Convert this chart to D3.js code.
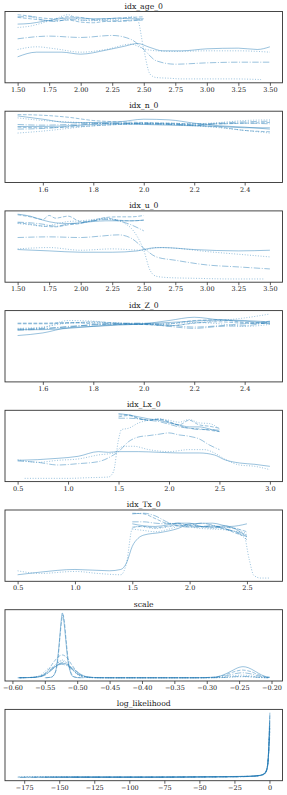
<!DOCTYPE html>
<html>
<head>
<meta charset="utf-8">
<script src="https://cdn.jsdelivr.net/npm/d3@7"></script>
<style>
  body { margin: 0; background: #fff; }
  svg text { font-family: "DejaVu Serif", serif; fill: #222; }
</style>
</head>
<body>
<div class="canvas"></div>
<script>
// Panel titles
const titles = ['idx_age_0', 'idx_n_0', 'idx_u_0', 'idx_Z_0', 'idx_Lx_0', 'idx_Tx_0', 'scale', 'log_likelihood']

// KDE per chain, [x, density]
const ageChains = [
  [[1.5,.88],[1.6,.89],[1.7,.92],[1.8,.95],[1.9,.97],[2.0,.97],[2.1,.96],[2.2,.96],[2.3,.97],[2.4,.96],[2.5,.96]],
  [[1.5,.83],[1.6,.85],[1.7,.90],[1.8,.96],[1.9,1.02],[2.0,.94],[2.1,.93],[2.2,.95],[2.3,.95],[2.4,.99],[2.45,.95],[2.5,.50],[2.55,.13],[2.6,.08],[2.7,.07],[2.8,.06],[3.0,.06],[3.2,.06],[3.43,.05]],
  [[1.5,1.02],[1.6,1.00],[1.7,.97],[1.8,.96],[1.9,.99],[2.0,.98],[2.1,.95],[2.2,.96],[2.3,.97],[2.4,.98],[2.5,.99]],
  [[1.5,.99],[1.6,.99],[1.7,.94],[1.8,.92],[1.9,.95],[2.0,.94],[2.1,.94],[2.2,.93],[2.3,.93],[2.4,.94],[2.5,.95]],
  [[1.5,.39],[1.65,.46],[1.85,.46],[2.0,.43],[2.2,.49],[2.35,.55],[2.45,.59],[2.55,.53],[2.65,.48],[2.8,.48],[3.0,.51],[3.25,.52],[3.4,.50],[3.5,.54]],
  [[1.5,.50],[1.65,.54],[1.8,.51],[2.0,.46],[2.2,.50],[2.4,.58],[2.5,.51],[2.6,.48],[2.75,.47],[3.0,.48],[3.25,.48],[3.5,.46]],
  [[1.5,.98],[1.6,.96],[1.7,.94],[1.8,.93],[1.9,.94],[2.0,.91],[2.1,.90],[2.2,.92],[2.3,.92],[2.4,.93],[2.5,.94]],
  [[1.5,.66],[1.75,.70],[2.0,.68],[2.25,.71],[2.4,.65],[2.5,.50],[2.6,.33],[2.75,.28],[3.0,.30],[3.25,.31],[3.5,.31]]
]

const nX = [1.5, 1.6, 1.7, 1.8, 1.9, 2.0, 2.1, 2.2, 2.3, 2.4, 2.5]
const nDens = [
  [1.01,.96,.91,.91,.92,.96,.95,.90,.86,.84,.81],
  [.98,.94,.92,.90,.89,.90,.90,.89,.91,.94,.95],
  [1.03,1.02,.99,.94,.92,.91,.90,.89,.89,.90,.91],
  [.88,.87,.88,.90,.90,.89,.88,.87,.89,.90,.89],
  [.85,.85,.86,.88,.89,.88,.87,.86,.85,.83,.83],
  [.75,.78,.82,.86,.88,.89,.88,.86,.83,.79,.75],
  [.84,.83,.84,.86,.88,.89,.89,.87,.84,.79,.77],
  [.81,.82,.85,.89,.90,.90,.89,.87,.90,.92,.93]
]

const uChains = [
  [[1.5,1.04],[1.6,1.01],[1.7,.95],[1.8,.91],[1.9,.90],[2.0,.91],[2.1,.93],[2.2,.94],[2.3,.94],[2.4,.94],[2.5,.95]],
  [[1.5,.90],[1.6,.88],[1.7,.86],[1.8,.89],[1.9,.93],[2.0,.94],[2.1,.96],[2.2,.97],[2.3,.95],[2.35,.90],[2.4,.83],[2.45,.70],[2.5,.50],[2.55,.20],[2.6,.11],[2.7,.09],[2.9,.08],[3.2,.07],[3.45,.07]],
  [[1.5,1.03],[1.6,1.00],[1.7,.96],[1.75,1.02],[1.8,.98],[1.9,1.01],[2.0,.93],[2.1,.94],[2.2,.98],[2.3,.95],[2.4,.94],[2.5,.95]],
  [[1.5,.92],[1.6,.91],[1.7,.89],[1.8,.86],[1.9,.89],[2.0,.91],[2.1,.94],[2.2,.96],[2.3,.94],[2.4,.88],[2.5,.79]],
  [[1.5,.51],[1.75,.49],[2.0,.47],[2.25,.47],[2.45,.49],[2.55,.53],[2.65,.54],[2.9,.51],[3.25,.49],[3.5,.50]],
  [[1.5,.52],[1.75,.54],[2.0,.50],[2.25,.52],[2.5,.50],[2.6,.54],[2.75,.53],[3.0,.48],[3.25,.44],[3.5,.40]],
  [[1.5,.91],[1.6,.89],[1.7,.86],[1.8,.85],[1.9,.88],[2.0,.90],[2.1,.95],[2.2,.99],[2.3,1.00],[2.4,1.00],[2.5,1.02]],
  [[1.5,.69],[1.75,.70],[2.0,.69],[2.15,.71],[2.3,.73],[2.4,.68],[2.5,.53],[2.6,.40],[2.75,.35],[3.0,.28],[3.25,.25],[3.5,.22]]
]

const zX = [1.5, 1.6, 1.7, 1.8, 1.9, 2.0, 2.1, 2.2, 2.3, 2.4, 2.5]
const zDens = [
  [.71,.75,.83,.85,.87,.89,.94,.99,.95,.93,.90],
  [.80,.83,.94,.93,.89,.88,.86,.90,.94,.98,1.04],
  [.90,.90,.91,.89,.88,.88,.89,.94,.95,.91,.89],
  [.79,.81,.85,.87,.89,.89,.85,.82,.85,.86,.92],
  [.80,.80,.82,.85,.88,.89,.91,.93,.95,.94,.92],
  [.82,.84,.90,.91,.90,.88,.89,.91,.89,.85,.88],
  [.89,.89,.90,.92,.90,.88,.86,.90,.92,.90,.93],
  [.81,.82,.84,.88,.90,.90,.87,.84,.86,.89,.90]
]

const lxChains = [
  [[1.5,1.02],[1.6,1.00],[1.7,.97],[1.8,.94],[1.9,.92],[2.0,.88],[2.1,.85],[2.2,.82],[2.3,.82],[2.4,.79],[2.5,.75]],
  [[0.57,.05],[0.8,.05],[1.0,.05],[1.2,.06],[1.4,.07],[1.45,.15],[1.5,.63],[1.53,.78],[1.6,.80],[1.7,.88],[1.8,.92],[1.9,.94],[2.0,.92],[2.1,.89],[2.2,.93],[2.3,.88],[2.4,.87],[2.5,.79]],
  [[1.5,1.00],[1.6,1.00],[1.7,.95],[1.8,.92],[1.9,.94],[2.0,.89],[2.1,.84],[2.2,.80],[2.3,.79],[2.4,.77],[2.5,.75]],
  [[1.5,.95],[1.6,.95],[1.7,.94],[1.8,.92],[1.9,.90],[2.0,.86],[2.1,.82],[2.2,.80],[2.3,.78],[2.4,.78],[2.5,.77]],
  [[0.5,.32],[0.7,.33],[0.9,.35],[1.1,.38],[1.3,.45],[1.4,.44],[1.5,.45],[1.7,.45],[1.9,.44],[2.1,.43],[2.3,.43],[2.45,.40],[2.55,.33],[2.7,.28],[2.85,.26],[3.0,.23]],
  [[0.5,.33],[0.7,.29],[0.9,.32],[1.1,.34],[1.3,.40],[1.45,.43],[1.55,.53],[1.65,.53],[1.8,.48],[2.0,.45],[2.2,.48],[2.35,.48],[2.45,.43],[2.55,.34],[2.7,.25],[2.85,.23],[3.0,.18]],
  [[1.5,.97],[1.6,.99],[1.7,.94],[1.8,.92],[1.9,.93],[2.0,.90],[2.1,.85],[2.2,.92],[2.3,.85],[2.4,.83],[2.5,.80]],
  [[0.5,.31],[0.7,.29],[0.9,.25],[1.1,.27],[1.3,.30],[1.45,.40],[1.5,.45],[1.6,.60],[1.7,.67],[1.8,.69],[1.9,.71],[2.0,.73],[2.1,.70],[2.2,.68],[2.3,.64],[2.4,.55],[2.5,.48]]
]

const txChains = [
  [[0.5,.10],[0.7,.14],[1.0,.18],[1.3,.16],[1.4,.18],[1.45,.28],[1.5,.53],[1.55,.65],[1.6,.70],[1.75,.74],[1.9,.80],[2.0,.87],[2.2,.88],[2.35,.83],[2.5,.87]],
  [[0.5,.16],[0.7,.12],[1.0,.15],[1.2,.12],[1.4,.10],[1.45,.28],[1.5,.80],[1.55,.83],[1.7,.80],[1.9,.84],[2.1,.80],[2.3,.78],[2.5,.73]],
  [[1.5,1.03],[1.6,1.02],[1.7,.95],[1.8,.88],[1.9,.87],[2.0,.85],[2.1,.83],[2.2,.82],[2.3,.80],[2.4,.73],[2.5,.68]],
  [[1.5,.90],[1.6,.90],[1.7,.88],[1.8,.87],[1.9,.88],[2.0,.85],[2.1,.88],[2.2,.85],[2.3,.79],[2.4,.75],[2.5,.63]],
  [[1.5,.87],[1.6,.84],[1.7,.83],[1.8,.85],[1.9,.88],[2.0,.88],[2.1,.83],[2.2,.82],[2.3,.84],[2.4,.79],[2.5,.67]],
  [[1.5,.79],[1.6,.77],[1.7,.75],[1.8,.78],[1.9,.83],[2.0,.85],[2.1,.83],[2.2,.80],[2.3,.82],[2.4,.80],[2.47,.73],[2.52,.33],[2.56,.09],[2.62,.05],[2.7,.05]],
  [[1.5,.82],[1.6,.83],[1.7,.81],[1.8,.83],[1.9,.85],[2.0,.83],[2.1,.82],[2.2,.84],[2.3,.82],[2.4,.80],[2.5,.75]],
  [[1.5,1.02],[1.6,1.03],[1.7,.99],[1.8,.90],[1.9,.84],[2.0,.82],[2.1,.83],[2.2,.84],[2.3,.80],[2.4,.75],[2.5,.70]]
]

const scaleChains = [
  [[-0.55,0],[-0.54,0.3],[-0.534,3],[-0.53,12],[-0.527,24],[-0.525,33],[-0.523,38.6],[-0.521,35],[-0.518,24],[-0.515,12],[-0.511,4],[-0.507,0.8],[-0.50,0.1],[-0.49,0]],
  [[-0.592,0],[-0.57,0.1],[-0.555,0.8],[-0.545,4],[-0.538,6],[-0.53,9],[-0.523,10.6],[-0.516,9],[-0.508,5],[-0.5,2],[-0.49,0.4],[-0.47,0.02],[-0.4,0],[-0.3,0.02],[-0.275,0.3],[-0.26,1.1],[-0.245,1.6],[-0.232,1.1],[-0.22,0.3],[-0.203,0]],
  [[-0.548,0],[-0.54,0.4],[-0.533,4],[-0.529,14],[-0.526,27],[-0.524,34],[-0.522,37.5],[-0.52,34],[-0.517,22],[-0.514,11],[-0.51,3.5],[-0.505,0.6],[-0.495,0]],
  [[-0.59,0],[-0.565,0.2],[-0.55,1.5],[-0.54,4.5],[-0.53,7.8],[-0.523,9],[-0.515,7.6],[-0.505,4],[-0.495,1.2],[-0.48,0.15],[-0.46,0],[-0.3,0],[-0.275,0.15],[-0.26,0.6],[-0.245,0.8],[-0.23,0.6],[-0.215,0.15],[-0.205,0]],
  [[-0.59,0],[-0.57,0.2],[-0.557,0.8],[-0.545,3],[-0.535,6.2],[-0.527,8.2],[-0.522,8.6],[-0.515,7.8],[-0.505,5],[-0.495,2.2],[-0.485,0.6],[-0.47,0.1],[-0.45,0],[-0.32,0],[-0.29,0.3],[-0.275,1.6],[-0.262,4],[-0.25,6.2],[-0.244,6.6],[-0.236,6],[-0.225,3.8],[-0.215,1.6],[-0.205,0.4],[-0.2025,0.3]],
  [[-0.588,0],[-0.57,0.3],[-0.555,2],[-0.545,5.4],[-0.537,6.5],[-0.53,8.8],[-0.524,10],[-0.517,9],[-0.508,5.4],[-0.5,2.2],[-0.49,0.5],[-0.475,0],[-0.3,0],[-0.27,0.2],[-0.255,0.5],[-0.245,0.6],[-0.235,0.5],[-0.22,0.15],[-0.205,0]],
  [[-0.591,0],[-0.57,0.2],[-0.555,1.2],[-0.545,4.5],[-0.536,9.5],[-0.528,12.8],[-0.523,13.6],[-0.517,12.4],[-0.508,7.5],[-0.5,3.4],[-0.49,0.9],[-0.475,0.1],[-0.45,0],[-0.32,0],[-0.29,0.3],[-0.275,1.3],[-0.26,3.3],[-0.245,4.6],[-0.233,3.8],[-0.22,1.8],[-0.21,0.6],[-0.203,0.2]],
  [[-0.589,0],[-0.565,0.3],[-0.552,1.8],[-0.542,4.6],[-0.533,7],[-0.524,8],[-0.515,7],[-0.505,4.2],[-0.495,1.6],[-0.48,0.3],[-0.46,0],[-0.31,0],[-0.285,0.3],[-0.27,1.2],[-0.255,2.5],[-0.245,3],[-0.233,2.4],[-0.22,1.1],[-0.21,0.3],[-0.204,0.1]]
]

const llChains = [
  [[-179.7,0.002],[-150,0.002],[-120,0.002],[-90,0.002],[-60,0.002],[-30,0.003],[-15,0.004],[-8,0.006],[-4,0.01],[-2.5,0.018],[-1.5,0.03],[-0.8,0.06],[-0.3,0.11],[0,0.16],[0.3,0.197]],
  [[-175,0.003],[-140,0.002],[-100,0.002],[-70,0.002],[-40,0.003],[-20,0.004],[-10,0.005],[-5,0.008],[-3,0.014],[-2,0.024],[-1,0.05],[-0.4,0.1],[0,0.15],[0.25,0.18]],
  [[-168,0.002],[-130,0.002],[-95,0.002],[-60,0.003],[-30,0.003],[-12,0.005],[-6,0.008],[-3,0.015],[-1.8,0.028],[-0.9,0.06],[-0.3,0.12],[0.28,0.19]],
  [[-178,0.001],[-145,0.002],[-110,0.002],[-75,0.002],[-45,0.003],[-22,0.003],[-11,0.005],[-5,0.009],[-2.6,0.016],[-1.4,0.035],[-0.6,0.08],[0,0.14],[0.3,0.17]],
  [[-160,0.002],[-120,0.002],[-80,0.002],[-50,0.003],[-25,0.004],[-12,0.005],[-6,0.008],[-3,0.016],[-1.5,0.032],[-0.7,0.07],[-0.2,0.12],[0.2,0.165]],
  [[-179,0.003],[-150,0.003],[-110,0.002],[-70,0.002],[-35,0.003],[-18,0.004],[-9,0.006],[-4,0.011],[-2.2,0.022],[-1,0.05],[-0.3,0.1],[0.3,0.16]],
  [[-150,0.002],[-110,0.002],[-75,0.002],[-40,0.003],[-20,0.004],[-10,0.006],[-5,0.01],[-2.5,0.02],[-1.2,0.045],[-0.5,0.09],[0.3,0.15]],
  [[-140,0.002],[-100,0.002],[-60,0.002],[-30,0.003],[-15,0.004],[-7,0.007],[-3.5,0.013],[-1.8,0.028],[-0.8,0.06],[0,0.11],[0.3,0.14]]
]

// Tick labels on each x axis
const ageTicks = [1.5, 1.75, 2.0, 2.25, 2.5, 2.75, 3.0, 3.25, 3.5]
const nTicks = [1.6, 1.8, 2.0, 2.2, 2.4]
const lxTicks = [0.5, 1.0, 1.5, 2.0, 2.5, 3.0]
const txTicks = [0.5, 1.0, 1.5, 2.0, 2.5]
const scaleTicks = [-0.6, -0.55, -0.5, -0.45, -0.4, -0.35, -0.3, -0.25, -0.2]
const llTicks = [-175, -150, -125, -100, -75, -50, -25, 0]

// grid-based chains -> [x, y] pairs
const pairUp = (xs, rows) => rows.map(r => r.map((v, j) => [xs[j], v]))

const panels = [ageChains, pairUp(nX, nDens), uChains, pairUp(zX, zDens), lxChains, txChains, scaleChains, llChains]
const ticks = [ageTicks, nTicks, ageTicks, nTicks, lxTicks, txTicks, scaleTicks, llTicks]
const formats = ['.2f', '.1f', '.2f', '.1f', '.1f', '.1f', '.2f', 'd']
const yFromZero = [false, true, false, true, false, false, false, false]

const width = 287
const height = 795
const margin = {top: 11.5, left: 5, right: 4.5}
const panelStep = 99.7
const panelHeight = 71.3

// solid, dotted, dashed, dashdot
const dashes = [null, '1,1.65', '3.7,1.6', '6.4,1.6,1,1.6']

const svg = d3.select('.canvas')
  .append('svg')
    .attr('width', width)
    .attr('height', height)

panels.forEach((chains, i) => {
  const g = svg.append('g')
    .attr('transform', `translate(0,${margin.top + i * panelStep})`)

  const pts = chains.flat()
  const [x0, x1] = d3.extent(pts, d => d[0])
  const [y0, y1] = d3.extent(pts, d => d[1])
  const xPad = (x1 - x0) * 0.05

  const x = d3.scaleLinear()
    .domain([x0 - xPad, x1 + xPad])
    .range([margin.left, width - margin.right])

  const yDomain = yFromZero[i]
    ? [0, y1 * 1.05]
    : [y0 - (y1 - y0) * 0.05, y1 + (y1 - y0) * 0.05]
  const y = d3.scaleLinear()
    .domain(yDomain)
    .range([panelHeight, 0])

  const line = d3.line()
    .x(d => x(d[0]))
    .y(d => y(d[1]))
    .curve(d3.curveMonotoneX)

  g.selectAll('path.kde')
    .data(chains)
    .enter()
    .append('path')
      .attr('class', 'kde')
      .attr('d', line)
      .attr('fill', 'none')
      .attr('stroke', '#1f77b4')
      .attr('stroke-opacity', 0.5)
      .attr('stroke-width', 0.9)
      .attr('stroke-dasharray', (d, j) => dashes[j % 4])

  // frame
  g.append('rect')
    .attr('x', margin.left)
    .attr('y', 0)
    .attr('width', width - margin.right - margin.left)
    .attr('height', panelHeight)
    .attr('fill', 'none')
    .attr('stroke', '#333')
    .attr('stroke-width', 0.9)

  const axis = g.append('g')
    .attr('transform', `translate(0,${panelHeight})`)
    .call(d3.axisBottom(x)
      .tickValues(ticks[i])
      .tickFormat(d3.format(formats[i]))
      .tickSize(3)
      .tickSizeOuter(0)
      .tickPadding(1.5))
  axis.select('.domain').remove()
  axis.selectAll('line').attr('stroke', '#333').attr('stroke-width', 0.8)
  axis.selectAll('text')
    .attr('fill', '#222')
    .style('font-size', '6.5px')

  g.append('text')
    .attr('x', (margin.left + width - margin.right) / 2)
    .attr('y', -3)
    .attr('text-anchor', 'middle')
    .style('font-size', '7.7px')
    .text(titles[i])
})
</script>
</body>
</html>
